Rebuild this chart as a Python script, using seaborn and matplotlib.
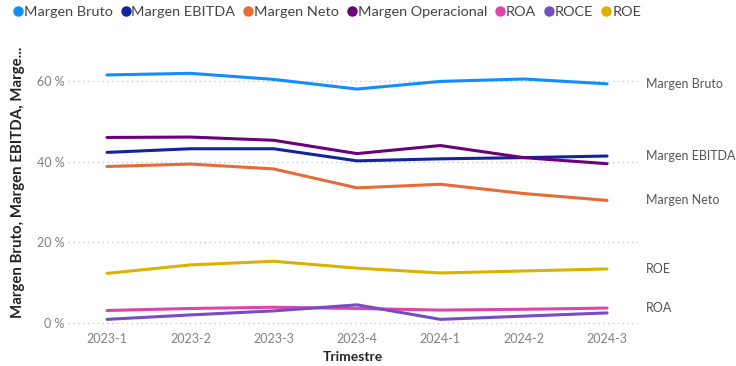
import matplotlib
matplotlib.use("Agg")
import matplotlib.pyplot as plt
import seaborn as sns
import pandas as pd
from matplotlib.ticker import FuncFormatter
from matplotlib.lines import Line2D

# Quarterly financial ratios (percent)
quarters = ["2023-1", "2023-2", "2023-3", "2023-4", "2024-1", "2024-2", "2024-3"]
margen_bruto = [61.5, 61.9, 60.4, 58.0, 59.9, 60.5, 59.3]
margen_ebitda = [42.3, 43.2, 43.2, 40.2, 40.7, 41.0, 41.4]
margen_neto = [38.8, 39.4, 38.2, 33.5, 34.4, 32.1, 30.4]
margen_operacional = [46.0, 46.1, 45.3, 42.0, 44.0, 41.0, 39.5]
roa = [3.1, 3.6, 3.9, 3.6, 3.2, 3.4, 3.7]
roce = [0.9, 2.0, 3.0, 4.5, 0.9, 1.7, 2.5]
roe = [12.3, 14.4, 15.3, 13.6, 12.4, 12.9, 13.4]

series_names = ["Margen Bruto", "Margen EBITDA", "Margen Neto", "Margen Operacional",
                "ROA", "ROCE", "ROE"]
series_values = [margen_bruto, margen_ebitda, margen_neto, margen_operacional,
                 roa, roce, roe]
colors = ["#118DFF", "#12239E", "#E66C37", "#6B007B", "#E044A7", "#744EC2", "#D9B300"]
end_labels = ["Margen Bruto", "Margen EBITDA", "Margen Neto", "ROE", "ROA"]

rows = []
for name, vals in zip(series_names, series_values):
    for i, (q, v) in enumerate(zip(quarters, vals)):
        rows.append({"Trimestre": q, "pos": i, "serie": name, "valor": v})
df = pd.DataFrame(rows)

sns.set_theme(style="white")
plt.rcParams["font.family"] = ["Lato", "DejaVu Sans"]

fig = plt.figure(figsize=(7.36, 3.66), dpi=100)
ax = fig.add_axes([0.0924, 0.112, 0.7745, 0.724])

palette = dict(zip(series_names, colors))
sns.lineplot(data=df, x="pos", y="valor", hue="serie", hue_order=series_names,
             palette=palette, linewidth=2.2, ax=ax, legend=False, sort=True)

ax.set_xlim(-0.468, 6.372)
ax.set_ylim(-0.5, 65.2)
ax.set_xticks(range(len(quarters)))
ax.set_xticklabels(quarters)
ax.set_yticks([0, 20, 40, 60])
ax.yaxis.set_major_formatter(FuncFormatter(lambda v, _: f"{v:.0f} %"))
ax.tick_params(axis="both", length=0, labelsize=9, labelcolor="#808080", pad=6)
ax.tick_params(axis="y", pad=2.5)
ax.grid(axis="y", color="#c8c8c8", linestyle=(0, (1, 2.5)), linewidth=1)
ax.grid(axis="x", visible=False)
for s in ax.spines.values():
    s.set_visible(False)

ax.set_xlabel("Trimestre", fontsize=10, fontweight="bold", color="#252423", labelpad=4)
ax.set_ylabel("Margen Bruto, Margen EBITDA, Marge...", fontsize=10.8, fontweight="bold",
              color="#252423")
ax.yaxis.set_label_coords(-0.0754, 0.54)

# Series names at the right end of the lines
for name, vals in zip(series_names, series_values):
    if name in end_labels:
        ax.annotate(name, xy=(len(quarters) - 1, vals[-1]), xytext=(28, 0),
                    textcoords="offset points", va="center", ha="left",
                    fontsize=9, color="#555555", annotation_clip=False)

handles = [Line2D([0], [0], marker="o", linestyle="", markersize=6.5,
                  markerfacecolor=c, markeredgecolor=c) for c in colors]
fig.legend(handles, series_names, loc="upper left", bbox_to_anchor=(0.0066, 1.0),
           ncol=7, frameon=False, fontsize=10.4, handletextpad=-0.09,
           columnspacing=0.39, handlelength=1.0, labelcolor="#444444",
           borderaxespad=0.0)

fig.savefig("out.png", dpi=100)
